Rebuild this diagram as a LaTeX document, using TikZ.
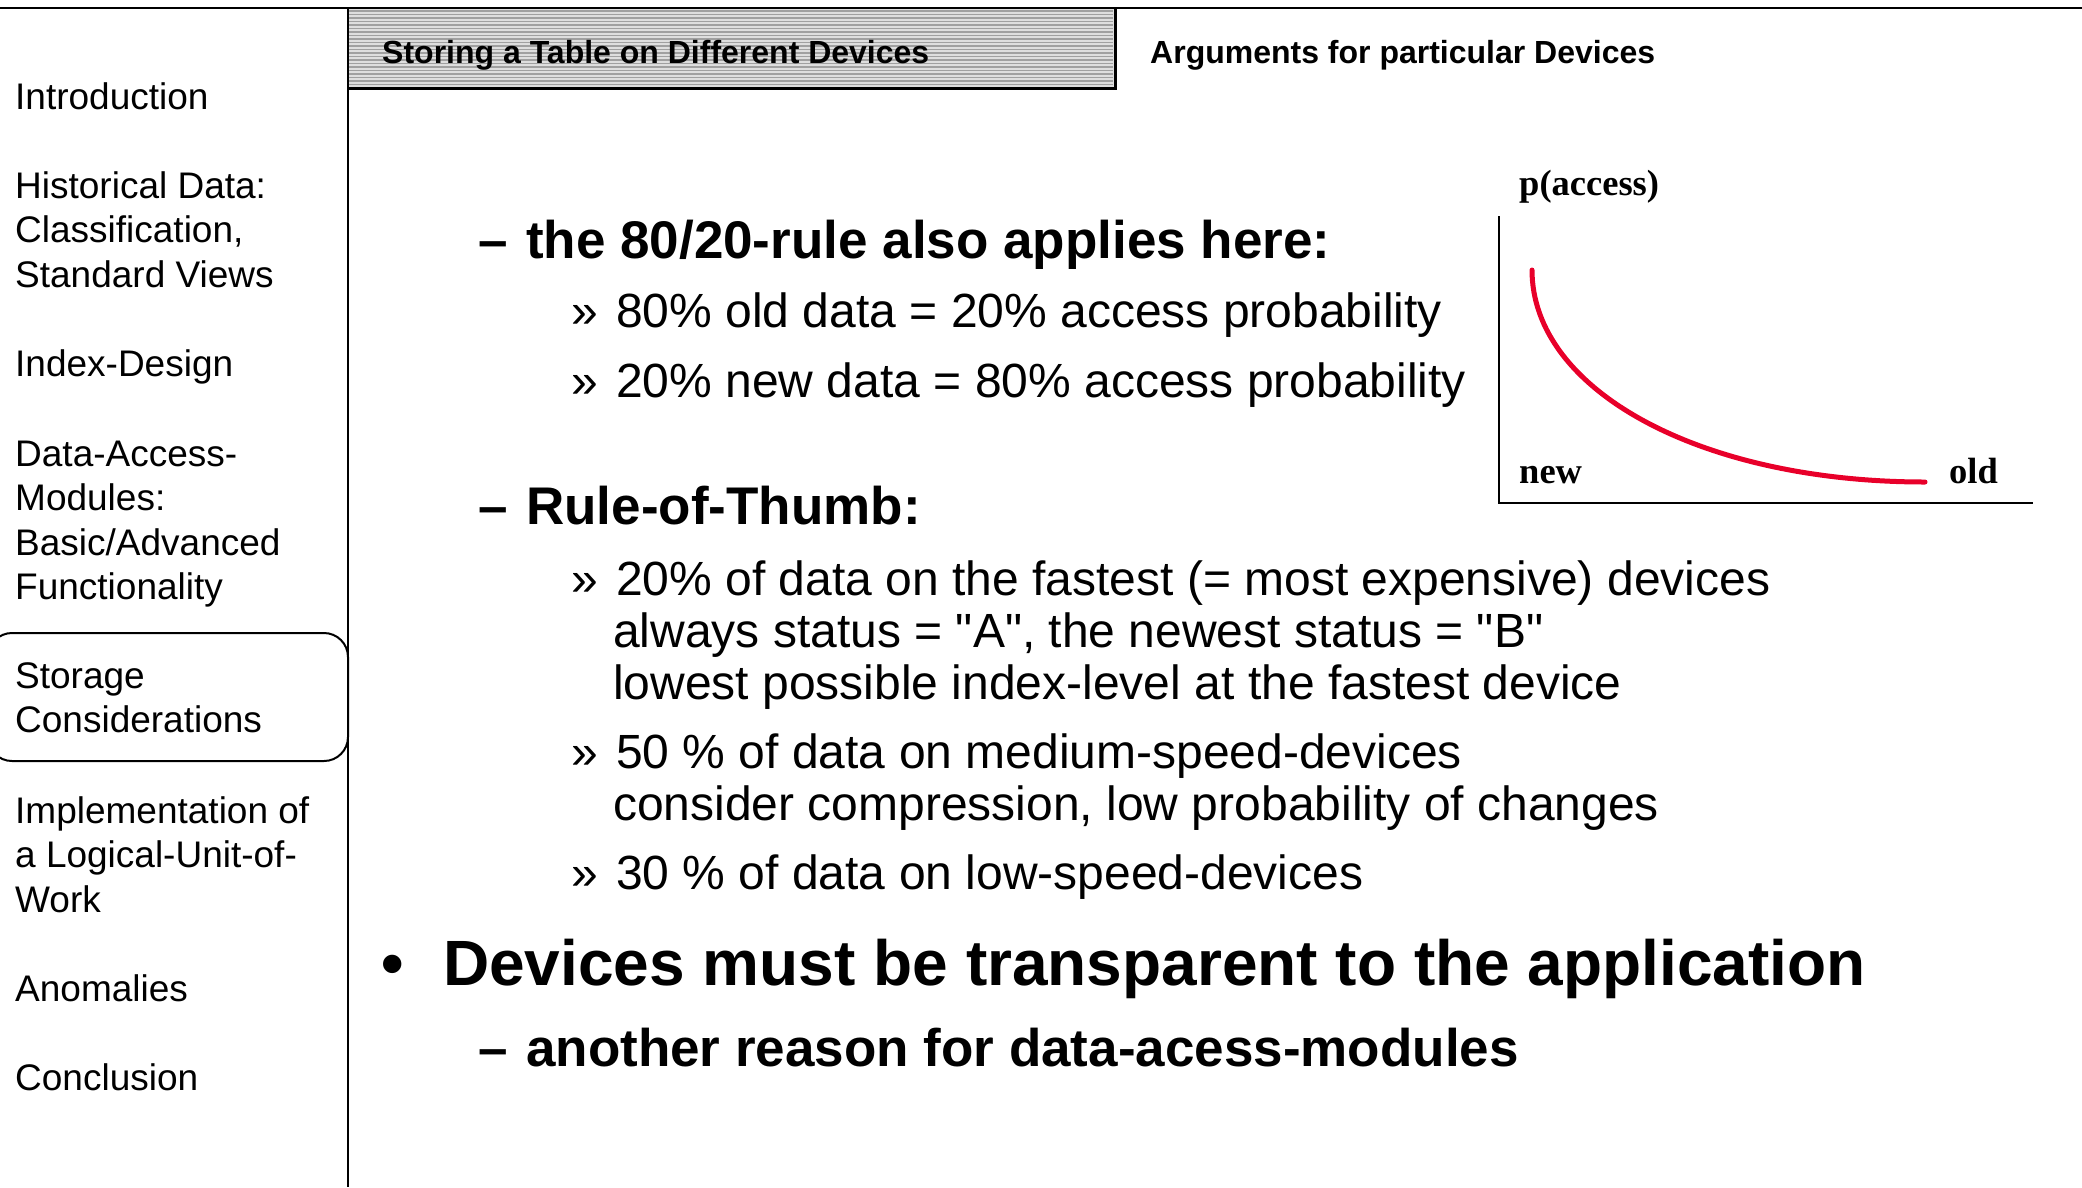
\documentclass[tikz,border=0pt]{standalone}
\usepackage{fontspec}
\setmainfont{Liberation Sans}[Ligatures=TeXOff]
\newfontfamily\chartfont{Liberation Serif}
\definecolor{curvered}{RGB}{232,0,42}
\definecolor{tabbg}{RGB}{222,222,222}
\definecolor{tabline}{RGB}{160,160,160}
\begin{document}
\begin{tikzpicture}[x=1pt,y=-1pt,
  txt/.style={anchor=base west, inner sep=0pt},
  side/.style={txt, font=\fontsize{37}{44}\selectfont},
  tabtitle/.style={txt, font=\fontsize{32}{38}\selectfont\bfseries},
  head/.style={txt, font=\fontsize{53}{60}\selectfont\bfseries},
  big/.style={txt, font=\fontsize{64}{72}\selectfont\bfseries},
  sub/.style={txt, font=\fontsize{48}{56}\selectfont},
  axislabel/.style={txt, font=\fontsize{36.5}{42}\selectfont\chartfont\bfseries},
  stripe/.style={draw=tabline, line width=1.4pt},
  frame/.style={line width=2pt},
  curve/.style={draw=curvered, line width=5pt, line cap=round}]
\useasboundingbox (0,0) rectangle (2082,1187);

% header tab with striped fill
\fill[tabbg] (348,8) rectangle (1115,89);
\foreach \k in {0,...,22}
  \draw[stripe] (349,{11+3.5*\k}) -- (1113,{11+3.5*\k});
\draw[line width=1.5pt] (348,8) -- (348,89);
\draw[line width=3pt] (348,88) -- (1115,88) -- (1115,8);

% frame lines
\draw[frame] (0,8) -- (2082,8);
\draw[frame] (348,8) -- (348,1187);

% header texts
\node[tabtitle] (tab1) at (382,63) {Storing a Table on Different Devices};
\node[tabtitle] (tab2) at (1150,63) {Arguments for particular Devices};

% sidebar navigation
\draw[frame, rounded corners=24pt] (-12,633) rectangle (348,761);
\node[side] (s1)  at (15,109) {Introduction};
\node[side] (s2)  at (15,198) {Historical Data:};
\node[side] (s3)  at (15,242) {Classification,};
\node[side] (s4)  at (15,287) {Standard Views};
\node[side] (s5)  at (15,376) {Index-Design};
\node[side] (s6)  at (15,466) {Data-Access-};
\node[side] (s7)  at (15,510) {Modules:};
\node[side] (s8)  at (15,555) {Basic/Advanced};
\node[side] (s9)  at (15,599) {Functionality};
\node[side] (s10) at (15,688) {Storage};
\node[side] (s11) at (15,732) {Considerations};
\node[side] (s12) at (15,823) {Implementation of};
\node[side] (s13) at (15,867) {a Logical-Unit-of-};
\node[side] (s14) at (15,912) {Work};
\node[side] (s15) at (15,1001) {Anomalies};
\node[side] (s16) at (15,1090) {Conclusion};

% main content
\node[head] (d1) at (478,258) {–};
\node[head] (h1) at (526,258) {the 80/20-rule also applies here:};
\node[sub] (m1) at (571,327) {»};
\node[sub] (t1) at (616,327) {80\% old data = 20\% access probability};
\node[sub] (m2) at (571,397) {»};
\node[sub] (t2) at (616,397) {20\% new data = 80\% access probability};

\node[head] (d2) at (478,524) {–};
\node[head] (h2) at (526,524) {Rule-of-Thumb:};
\node[sub] (m3) at (571,595) {»};
\node[sub] (t3) at (616,595) {20\% of data on the fastest (= most expensive) devices};
\node[sub] (t3b) at (613,647) {always status = "A", the newest status = "B"};
\node[sub] (t3c) at (613,699) {lowest possible index-level at the fastest device};
\node[sub] (m4) at (571,768) {»};
\node[sub] (t4) at (616,768) {50 \% of data on medium-speed-devices};
\node[sub] (t4b) at (613,820) {consider compression, low probability of changes};
\node[sub] (m5) at (571,889) {»};
\node[sub] (t5) at (616,889) {30 \% of data on low-speed-devices};

\node[big] (b1) at (381,985) {•};
\node[big] (h3) at (443,985) {Devices must be transparent to the application};
\node[head] (d3) at (478,1066) {–};
\node[head] (h4) at (526,1066) {another reason for data-acess-modules};

% access probability chart
\draw[line width=2pt] (1499,216) -- (1499,503) -- (2033,503);
\draw[curve] (1532,270) .. controls (1532,390) and (1700,482) .. (1925,482);
\node[axislabel] (py) at (1519,195) {p(access)};
\node[axislabel] (pn) at (1519,483) {new};
\node[axislabel] (po) at (1949,483) {old};
\end{tikzpicture}
\end{document}
